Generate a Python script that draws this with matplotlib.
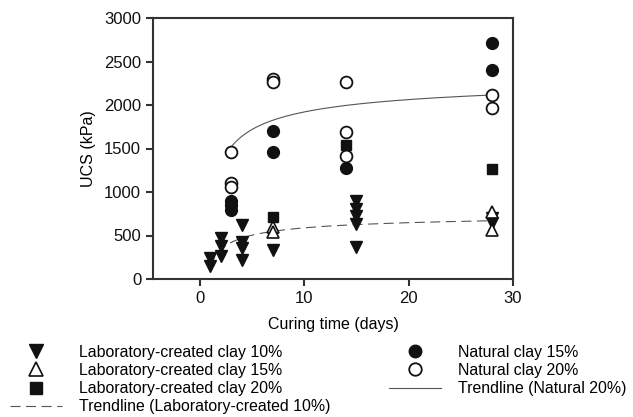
import matplotlib
matplotlib.use("Agg")
import matplotlib.pyplot as plt
import numpy as np
from matplotlib.lines import Line2D

plt.rcParams['font.family'] = ['Liberation Sans', 'DejaVu Sans']

# data
lab10_x = [1, 1, 2, 2, 2, 4, 4, 4, 4, 7, 15, 15, 15, 15, 15, 28, 28]
lab10_y = [240, 150, 470, 380, 265, 620, 430, 355, 220, 335, 896, 805, 724, 632, 371, 700, 645]
lab15_x = [7, 7, 28, 28]
lab15_y = [600, 540, 775, 565]
lab20_x = [7, 14, 28]
lab20_y = [710, 1540, 1270]
nat15_x = [3, 3, 3, 7, 7, 14, 28, 28]
nat15_y = [900, 850, 790, 1700, 1460, 1280, 2710, 2400]
nat20_x = [3, 3, 3, 7, 7, 14, 14, 14, 28, 28]
nat20_y = [1460, 1100, 1060, 2300, 2260, 2260, 1690, 1410, 2120, 1960]

# trendlines  y = a - b / sqrt(t)
trend_lab = (791, 642, 1, 28)
trend_nat = (2405, 1533, 3, 28)

fig = plt.figure(figsize=(6.33, 4.17), dpi=100)
ax = fig.add_axes([153/633, 1-279/417, 360/633, 261/417])

def trend(p):
    a, b, t0, t1 = p
    t = np.linspace(t0, t1, 200)
    return t, a - b/np.sqrt(t)

tc = '#555555'
t, y = trend(trend_lab)
ax.plot(t, y, color=tc, lw=0.8, dashes=(9, 5), zorder=1)
t, y = trend(trend_nat)
ax.plot(t, y, color=tc, lw=0.8, zorder=1)

k = '#111111'
ax.plot(lab10_x, lab10_y, 'v', ms=9, color=k, ls='none', zorder=2)
ax.plot(lab15_x, lab15_y, '^', ms=9, mfc='white', mec=k, mew=1.2, ls='none', zorder=3)
ax.plot(lab20_x, lab20_y, 's', ms=7.5, color=k, ls='none', zorder=3)
ax.plot(nat15_x, nat15_y, 'o', ms=8.5, color=k, ls='none', zorder=3)
ax.plot(nat20_x, nat20_y, 'o', ms=8.5, mfc='white', mec=k, mew=1.3, ls='none', zorder=4)

ax.set_xlim(-4.5, 30)
ax.set_ylim(0, 3000)
ax.set_xticks([0, 10, 20, 30])
ax.set_yticks(np.arange(0, 3001, 500))
for s in ax.spines.values():
    s.set_linewidth(1.5)
    s.set_color('#333333')
ax.tick_params(direction='out', length=5, width=1.5, color='#333333',
               labelsize=12, labelcolor='#111111')
ax.set_xlabel('Curing time (days)', fontsize=11.5, labelpad=8)
ax.set_ylabel('UCS (kPa)', fontsize=11.5, labelpad=6)

handles = [
    Line2D([], [], marker='v', ms=9.5, color=k, ls='none'),
    Line2D([], [], marker='^', ms=9.5, mfc='white', mec=k, mew=1.2, ls='none'),
    Line2D([], [], marker='s', ms=8, color=k, ls='none'),
    Line2D([], [], color=tc, lw=0.8, dashes=(9, 5)),
    Line2D([], [], marker='o', ms=9, color=k, ls='none'),
    Line2D([], [], marker='o', ms=9, mfc='white', mec=k, mew=1.3, ls='none'),
    Line2D([], [], color=tc, lw=0.8),
]
labels = ['Laboratory-created clay 10%', 'Laboratory-created clay 15%',
          'Laboratory-created clay 20%', 'Trendline (Laboratory-created 10%)',
          'Natural clay 15%', 'Natural clay 20%', 'Trendline (Natural 20%)']
fig.legend(handles, labels, ncol=2, loc='upper left', bbox_to_anchor=(5/633, 1-340/417),
           frameon=False, fontsize=11.4, handlelength=3.3, handletextpad=1.05,
           columnspacing=3.7, labelspacing=0.2, borderaxespad=0, borderpad=0.3)

fig.savefig('out.png', dpi=100)
